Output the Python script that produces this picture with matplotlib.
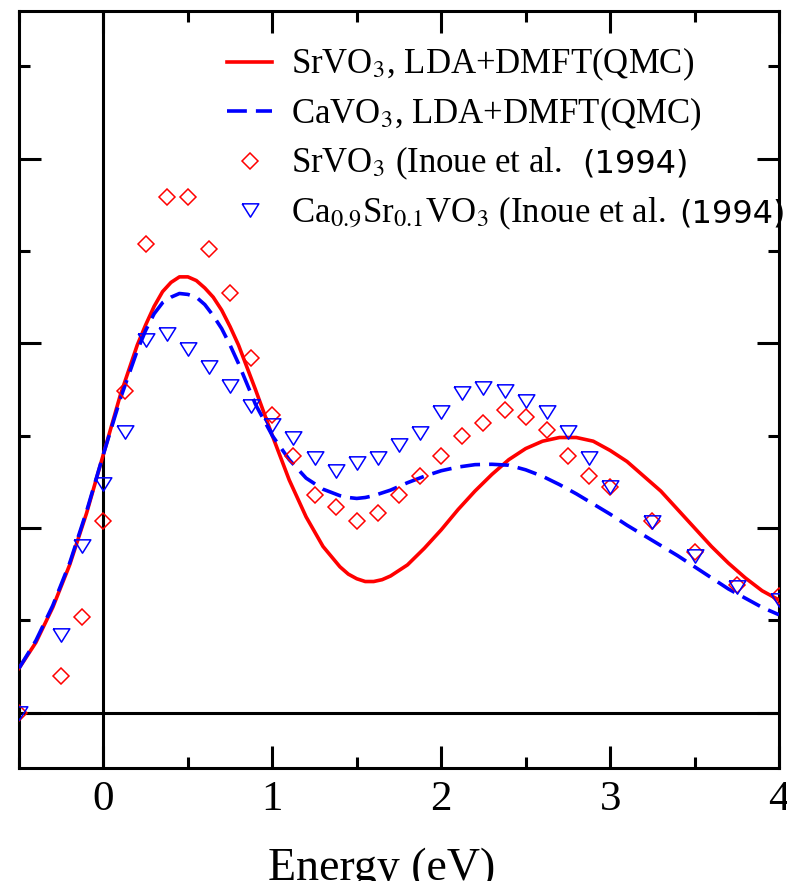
import matplotlib
matplotlib.use("Agg")
import matplotlib.pyplot as plt
from matplotlib.ticker import MultipleLocator

plt.rcParams['font.family'] = 'Liberation Serif'
plt.rcParams['mathtext.fontset'] = 'stix'

# LDA+DMFT(QMC) spectra (arb. units)
energy_calc = [-0.5, -0.4, -0.3, -0.2, -0.1, 0.0, 0.1, 0.2, 0.25, 0.3, 0.35, 0.4,
               0.45, 0.5, 0.55, 0.6, 0.65, 0.7, 0.75, 0.8, 0.85, 0.9, 1.0, 1.1,
               1.2, 1.3, 1.4, 1.45, 1.5, 1.55, 1.6, 1.65, 1.7, 1.8, 1.9, 2.0,
               2.1, 2.2, 2.3, 2.4, 2.5, 2.6, 2.7, 2.8, 2.9, 3.0, 3.1, 3.2, 3.3,
               3.4, 3.5, 3.6, 3.7, 3.8, 3.9, 4.0]
srvo3_calc = [0.24, 0.38, 0.57, 0.80, 1.08, 1.40, 1.72, 1.99, 2.10, 2.20, 2.28, 2.33,
              2.36, 2.36, 2.34, 2.30, 2.25, 2.18, 2.09, 1.99, 1.87, 1.75, 1.50, 1.26,
              1.06, 0.90, 0.79, 0.75, 0.725, 0.71, 0.71, 0.72, 0.74, 0.80, 0.89, 0.99,
              1.10, 1.20, 1.29, 1.37, 1.43, 1.47, 1.49, 1.49, 1.47, 1.42, 1.36, 1.28, 1.20,
              1.10, 1.00, 0.90, 0.81, 0.73, 0.66, 0.61]
cavo3_calc = [0.24, 0.39, 0.58, 0.81, 1.09, 1.40, 1.70, 1.96, 2.07, 2.16, 2.22, 2.25,
              2.27, 2.265, 2.25, 2.21, 2.15, 2.08, 1.99, 1.89, 1.78, 1.67, 1.50, 1.37,
              1.27, 1.21, 1.175, 1.165, 1.16, 1.165, 1.175, 1.19, 1.205, 1.245, 1.28, 1.31,
              1.33, 1.343, 1.345, 1.34, 1.315, 1.28, 1.235, 1.185, 1.13, 1.075, 1.015, 0.96, 0.905,
              0.85, 0.79, 0.73, 0.67, 0.62, 0.57, 0.53]

# photoemission data, Inoue et al. (1994)
energy_exp = [-0.5, -0.25, -0.125, 0.0, 0.125, 0.25, 0.375, 0.5, 0.625, 0.75, 0.875,
              1.0, 1.125, 1.25, 1.375, 1.5, 1.625, 1.75, 1.875, 2.0, 2.125, 2.25,
              2.375, 2.5, 2.625, 2.75, 2.875, 3.0, 3.25, 3.5, 3.75, 4.0]
srvo3_exp = [0.0, 0.20, 0.52, 1.04, 1.74, 2.54, 2.79, 2.79, 2.51, 2.27, 1.92,
             1.61, 1.39, 1.18, 1.115, 1.04, 1.08, 1.18, 1.28, 1.39, 1.50, 1.57,
             1.64, 1.60, 1.53, 1.39, 1.28, 1.22, 1.04, 0.87, 0.69, 0.63]
casrvo3_exp = [0.0, 0.42, 0.90, 1.24, 1.52, 2.02, 2.05, 1.97, 1.87, 1.77, 1.66,
               1.56, 1.485, 1.38, 1.31, 1.35, 1.38, 1.45, 1.515, 1.63, 1.73, 1.76,
               1.74, 1.69, 1.63, 1.52, 1.38, 1.22, 1.03, 0.85, 0.68, 0.61]

labels = [r'SrVO$_3$, LDA+DMFT(QMC)',
          r'CaVO$_3$, LDA+DMFT(QMC)',
          r'SrVO$_3$ (Inoue et al.',
          r'Ca$_{0.9}$Sr$_{0.1}$VO$_3$ (Inoue et al.']
year_text = '(1994)'
xticks = [0, 1, 2, 3, 4]

W, H = 787, 881
fig = plt.figure(figsize=(W / 100, H / 100), dpi=100)
ax = fig.add_axes([19 / W, 113 / H, 760 / W, 757 / H])

ax.axhline(0, color='k', lw=2.2, zorder=1)
ax.axvline(0, color='k', lw=2.2, zorder=1)

ax.plot(energy_calc, srvo3_calc, color='#ff0000', lw=2.6, label=labels[0], zorder=3)
ax.plot(energy_calc, cavo3_calc, color='#0000ff', lw=2.6, dashes=(5.5, 2.5),
        label=labels[1], zorder=4)

tri = [(-1, 0.8), (1, 0.8), (0, -0.8), (-1, 0.8)]
ax.plot(energy_exp, srvo3_exp, ls='none', marker='D', ms=8, mfc='none',
        mec='#ff0000', mew=1.1, label=labels[2], zorder=5)
ax.plot(energy_exp, casrvo3_exp, ls='none', marker=tri, ms=12, mfc='none',
        mec='#0000ff', mew=1.1, label=labels[3], zorder=6)

ax.set_xlim(-0.5, 4)
ax.set_ylim(-0.3, 3.8)
ax.set_xticks(xticks)
ax.set_xticklabels([str(t) for t in xticks])
ax.xaxis.set_minor_locator(MultipleLocator(0.5))
ax.yaxis.set_major_locator(MultipleLocator(1))
ax.yaxis.set_minor_locator(MultipleLocator(0.5))
ax.tick_params(which='both', direction='in', top=True, right=True, width=2.2,
               labelleft=False, labelsize=31, pad=9)
ax.tick_params(which='major', length=16)
ax.tick_params(which='minor', length=8)
for s in ax.spines.values():
    s.set_linewidth(2.2)

leg = ax.legend(loc='upper left', bbox_to_anchor=(227 / W, 1 - 46 / H),
                bbox_transform=fig.transFigure, frameon=False, fontsize=25,
                handlelength=1.3, handletextpad=0.55, labelspacing=0.35,
                borderpad=0, borderaxespad=0, numpoints=1)

# the year in the reference is set in a sans font
fig.canvas.draw()
renderer = fig.canvas.get_renderer()
for i, gap in ((2, 20), (3, 14)):
    t = leg.get_texts()[i]
    bb = t.get_window_extent(renderer)
    base_y = t.get_transform().transform(t.get_position())[1]
    fig.text((bb.x1 + gap) / W, base_y / H, year_text, family='DejaVu Sans',
             fontsize=23, va='baseline', ha='left')

fig.text(382 / W, 1 / H, 'Energy (eV)', ha='center', va='baseline', fontsize=33)

fig.savefig('out.png', dpi=100)
